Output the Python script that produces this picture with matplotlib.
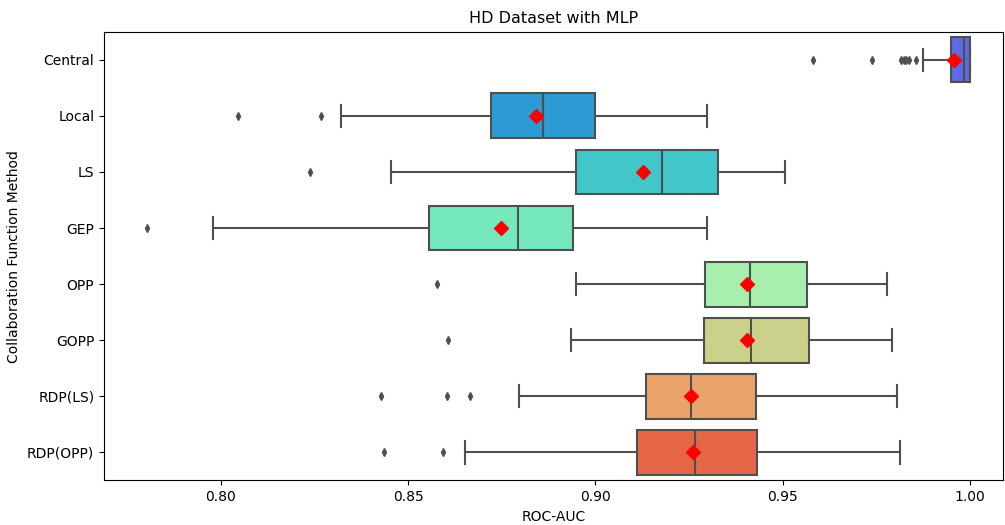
import numpy as np
import matplotlib
matplotlib.use("Agg")
import matplotlib.pyplot as plt
import seaborn as sns

methods = ["Central", "Local", "LS", "GEP", "OPP", "GOPP", "RDP(LS)", "RDP(OPP)"]

# box summary
whislo = [0.9874, 0.8320, 0.8453, 0.7979, 0.8949, 0.8936, 0.8795, 0.8653]
q1 = [0.9950, 0.8720, 0.8949, 0.8556, 0.9293, 0.9289, 0.9134, 0.9112]
med = [0.9985, 0.8859, 0.9177, 0.8792, 0.9412, 0.9414, 0.9256, 0.9265]
q3 = [1.0000, 0.8999, 0.9326, 0.8941, 0.9564, 0.9569, 0.9428, 0.9432]
whishi = [1.0000, 0.9299, 0.9505, 0.9299, 0.9779, 0.9793, 0.9804, 0.9814]
means = [0.9958, 0.8840, 0.9126, 0.8747, 0.9404, 0.9404, 0.9256, 0.9260]
fliers = [
    [0.9580, 0.9737, 0.9816, 0.9823, 0.9830, 0.9838, 0.9857],
    [0.8047, 0.8266],
    [0.8237],
    [0.7802],
    [0.8578],
    [0.8607],
    [0.8427, 0.8603, 0.8665],
    [0.8436, 0.8593],
]

stats = []
for i in range(len(methods)):
    stats.append(dict(label=methods[i], whislo=whislo[i], q1=q1[i], med=med[i],
                      q3=q3[i], whishi=whishi[i], mean=means[i], fliers=fliers[i]))

pal = [sns.desaturate(c, 0.75) for c in sns.color_palette("rainbow", len(methods))]
gray = "#4f4f4f"

fig = plt.figure(figsize=(10.05, 5.25), dpi=100)
ax = fig.add_axes([0.1035, 0.085, 0.8945, 0.8545])

pos = np.arange(len(methods))
bp = ax.bxp(stats, positions=pos, widths=0.8, orientation="horizontal",
            patch_artist=True, showmeans=True,
            boxprops=dict(edgecolor=gray, linewidth=1.5),
            medianprops=dict(color=gray, linewidth=1.5),
            whiskerprops=dict(color=gray, linewidth=1.5),
            capprops=dict(color=gray, linewidth=1.5),
            flierprops=dict(marker="d", markersize=4, markerfacecolor=gray,
                            markeredgecolor=gray, linestyle="none"),
            meanprops=dict(marker="D", markersize=7, markerfacecolor="red",
                           markeredgecolor="red"))
for patch, c in zip(bp["boxes"], pal):
    patch.set_facecolor(c)

ax.set_ylim(len(methods) - 0.5, -0.5)
ax.set_xlim(0.7688, 1.0088)
ax.set_xticks([0.80, 0.85, 0.90, 0.95, 1.00])
ax.set_yticks(pos)
ax.set_yticklabels(methods)
ax.set_xlabel("ROC-AUC")
ax.set_ylabel("Collaboration Function Method")
ax.set_title("HD Dataset with MLP", fontsize=11.5)

fig.savefig("out.png", dpi=100)
